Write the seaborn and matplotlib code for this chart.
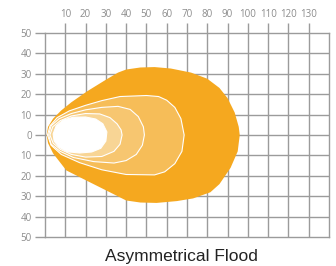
import matplotlib
matplotlib.use("Agg")
import matplotlib.pyplot as plt
import seaborn as sns
import numpy as np

# contour outlines (x = distance, y = lateral)
outer_x = [0.8, 1.5, 4, 8, 13, 21, 30, 36, 40, 47, 54, 62, 72, 80, 86, 90, 93.5, 95.5, 96,
           95, 91.5, 86, 81.5, 73, 65, 55, 47, 40, 32, 20.5, 10.5, 4, 1.5]
outer_y = [0, 4, 8, 12, 16, 21.5, 27, 30.5, 32, 33, 33.2, 32.5, 30.5, 27.5, 23, 18, 11, 4, 0,
           -8, -16, -24, -28, -31, -32.3, -33.2, -33, -32, -28, -22.3, -17.3, -9, -4]

ring2_x = [1.2, 2.5, 6, 12, 20, 28, 37, 50, 56, 60, 64, 67, 68.6, 67.5, 64, 59, 54, 40, 28, 17, 8, 3]
ring2_y = [0, 4.5, 8.5, 11.8, 14.5, 16.8, 18.8, 19.3, 18.8, 17, 13.5, 8, 0, -8, -14, -18, -19.5,
           -19.3, -17, -13.5, -9.5, -5]

ring3_x = [1.8, 3, 7, 13, 20, 28, 36, 42, 46, 48.5, 49, 48, 45, 40, 34, 24, 14, 7.5, 3]
ring3_y = [0, 4.5, 8, 10.5, 12.3, 13.5, 14, 12.5, 9, 4, 0, -5, -9.5, -12.5, -13.7, -13, -11, -8, -4.5]

ring4_x = [2.4, 3.8, 7.5, 13, 20, 27, 32, 35.5, 37.5, 38, 37, 34, 28, 20, 13, 7.5, 4]
ring4_y = [0, 4, 7, 9.3, 10.5, 10.3, 8.5, 5.5, 2.5, 0, -4.5, -8, -10.5, -10.8, -9.5, -7, -4]

core_x = [4, 5.5, 9, 14, 20, 25, 28.5, 30.5, 30, 27.5, 23, 17, 11, 7, 4.5]
core_y = [0.5, 4.5, 7.3, 8.7, 8.8, 7.8, 5.5, 1.5, -3, -6.5, -8.3, -8.8, -8.2, -6, -3]

x_ticks = [10, 20, 30, 40, 50, 60, 70, 80, 90, 100, 110, 120, 130]
y_ticks = [-50, -40, -30, -20, -10, 0, 10, 20, 30, 40, 50]

sns.set_theme(style="white")
plt.rcParams['font.family'] = ['Open Sans', 'DejaVu Sans']

grid_c = "#9b9b9b"
fig = plt.figure(figsize=(3.36, 2.66), dpi=100)
ax = fig.add_axes([45 / 336, 28.7 / 266, 284 / 336, 204.6 / 266])

# grid first so the light pattern sits under the shapes
for x in x_ticks:
    ax.axvline(x, color=grid_c, lw=1.0, zorder=1)
for y in y_ticks[1:-1]:
    ax.axhline(y, color=grid_c, lw=1.0, zorder=1)

ax.fill(outer_x, outer_y, color="#F5A81F", lw=0, zorder=2)
ax.fill(ring2_x, ring2_y, facecolor="#F6BD58", edgecolor="white", lw=0.8, zorder=3)
ax.fill(ring3_x, ring3_y, facecolor="#F7C670", edgecolor="white", lw=0.8, zorder=4)
ax.fill(ring4_x, ring4_y, facecolor="#F8D595", edgecolor="white", lw=0.8, zorder=5)
ax.fill(core_x, core_y, facecolor="white", edgecolor="white", lw=0.8, zorder=6)

ax.set_xlim(0, 140)
ax.set_ylim(-50, 50)
for s in ax.spines.values():
    s.set_color(grid_c)
    s.set_linewidth(1.0)
    s.set_visible(True)
    s.set_zorder(1)

ax.xaxis.tick_top()
ax.set_xticks(x_ticks)
ax.set_yticks(y_ticks)
ax.set_yticklabels([str(abs(v)) for v in y_ticks])
ax.tick_params(axis="both", length=7.5, width=1.0, color=grid_c, labelcolor="#8c8c8c",
               labelsize=7, pad=2, direction="out")
ax.tick_params(axis="x", top=True, bottom=False)
ax.tick_params(axis="y", left=True, right=False)

fig.text(181 / 336, 1 - 256 / 266, "Asymmetrical Flood", ha="center", va="center",
         fontsize=12.5, color="#222222", family=["Liberation Sans", "DejaVu Sans"])

fig.savefig("out.png", dpi=100)
